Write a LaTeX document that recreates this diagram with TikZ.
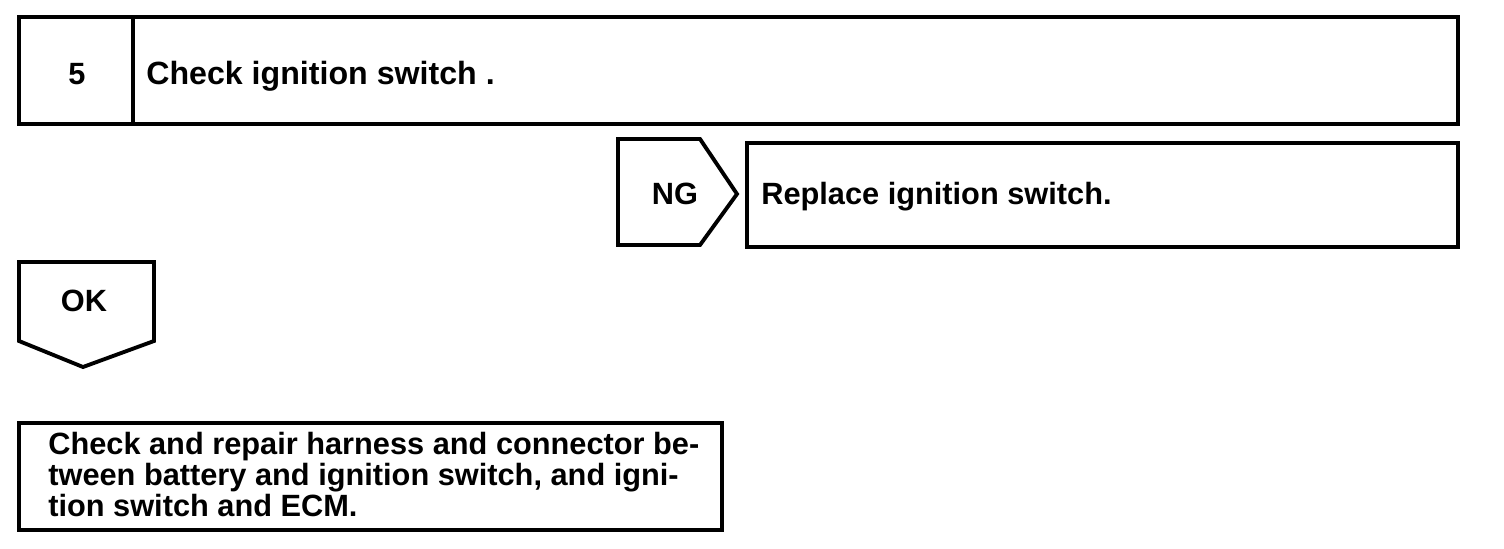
\documentclass[tikz,border=0pt]{standalone}
\usepackage{fontspec}
\setmainfont{Liberation Sans}
\usepackage{tikz}

\begin{document}
\begin{tikzpicture}[x=0.02cm, y=-0.02cm,
    box/.style={draw, line width=2.2pt, line join=miter},
    lbl/.style={font=\bfseries\fontsize{17.5}{17.6}\selectfont, inner sep=0pt}]

    \useasboundingbox (0,0) rectangle (1504,548);

    % step 5
    \draw[box] (19,17) rectangle (1458,124);
    \draw[box] (133,17) -- (133,124);
    \node[lbl, anchor=base] at (77,84) (num) {5};
    \node[lbl, anchor=base west, font=\bfseries\fontsize{18.3}{20}\selectfont] at (146,84) (chk) {Check ignition switch .};

    % NG branch
    \draw[box] (618,139) -- (700,139) -- (737,194) -- (700,245) -- (618,245) -- cycle;
    \node[lbl, anchor=base] at (675,204) (ng) {NG};
    \draw[box] (747,143) rectangle (1458,247);
    \node[lbl, anchor=base west] at (761,204) (repl) {Replace ignition switch.};

    % OK branch
    \draw[box] (19,262) -- (154,262) -- (154,341) -- (83,367) -- (19,341) -- cycle;
    \node[lbl, anchor=base] at (84,311) (ok) {OK};
    \draw[box] (19,423) rectangle (722,530);
    \node[lbl, anchor=north west, align=left] at (48,432) (fix)
        {Check and repair harness and connector be-\\
         tween battery and ignition switch, and igni-\\
         tion switch and ECM.};

  \end{tikzpicture}
\end{document}
